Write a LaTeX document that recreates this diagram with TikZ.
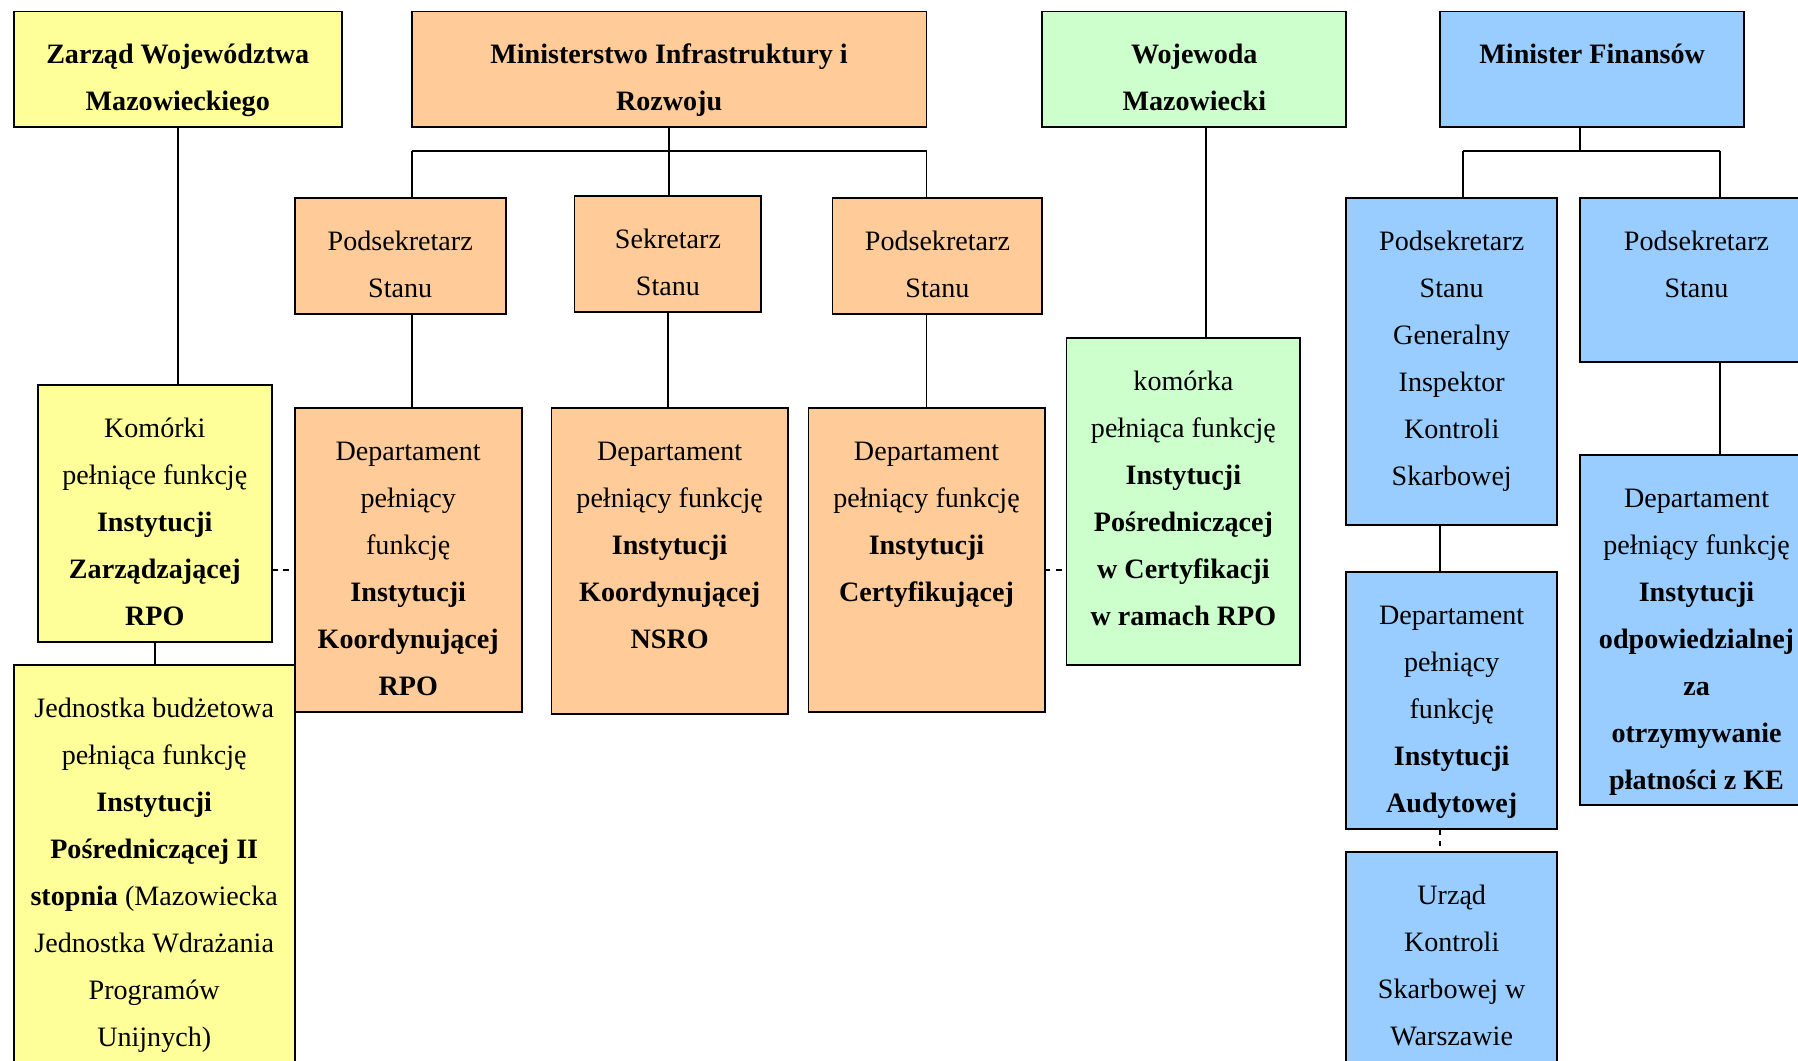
\documentclass[tikz,border=0pt]{standalone}
\usepackage{fontspec}
\setmainfont{Liberation Serif}
\usetikzlibrary{calc}
\definecolor{cyel}{HTML}{FFFF99}
\definecolor{cora}{HTML}{FFCC99}
\definecolor{cgrn}{HTML}{CCFFCC}
\definecolor{cblu}{HTML}{99CCFF}
\newcommand\bx[3]{\parbox[c][#2pt][t]{#1pt}{\centering\rule{0pt}{45.5pt}#3\par}}
\begin{document}
\begin{tikzpicture}[x=1pt,y=-1pt,
  box/.style={draw=black, line width=1.6pt, inner sep=0pt, outer sep=0pt, anchor=north west,
    font=\fontsize{24.5}{41}\selectfont},
  yel/.style={box, fill=cyel},
  ora/.style={box, fill=cora},
  grn/.style={box, fill=cgrn},
  blu/.style={box, fill=cblu},
  conn/.style={draw=black, line width=1.6pt},
  dconn/.style={draw=black, line width=1.4pt, dash pattern=on 5pt off 5pt}]
\useasboundingbox (0,0) rectangle (1568,925);
\fill[white] (0,0) rectangle (1568,925);

% top row
\node[yel] (zarzad) at (12,10) {\bx{286}{101}{\bfseries Zarząd Województwa\\Mazowieckiego}};
\node[ora] (min) at (359,10) {\bx{449}{101}{\bfseries Ministerstwo Infrastruktury i\\Rozwoju}};
\node[grn] (woj) at (909,10) {\bx{265}{101}{\bfseries Wojewoda\\Mazowiecki}};
\node[blu] (mf) at (1256,10) {\bx{265}{101}{\bfseries Minister Finansów}};

% yellow column
\node[yel] (komorki) at (33,336) {\bx{204}{224}{Komórki\\pełniące funkcję\\\textbf{Instytucji}\\\textbf{Zarządzającej}\\\textbf{RPO}}};
\node[yel] (jedn) at (12,580) {\bx{245}{360}{Jednostka budżetowa\\pełniąca funkcję\\\textbf{Instytucji}\\\textbf{Pośredniczącej II}\\\textbf{stopnia} (Mazowiecka\\Jednostka Wdrażania\\Programów\\Unijnych)}};

% ministry
\node[ora] (ps1) at (257,173) {\bx{184}{101}{Podsekretarz\\Stanu}};
\node[ora] (ss) at (501,171) {\bx{163}{101}{Sekretarz\\Stanu}};
\node[ora] (ps2) at (726,173) {\bx{183}{101}{Podsekretarz\\Stanu}};
\node[ora] (dkrpo) at (257,356) {\bx{198}{265}{Departament\\pełniący\\funkcję\\\textbf{Instytucji}\\\textbf{Koordynującej}\\\textbf{RPO}}};
\node[ora] (dnsro) at (481,356) {\bx{206}{267}{Departament\\pełniący funkcję\\\textbf{Instytucji}\\\textbf{Koordynującej}\\\textbf{NSRO}}};
\node[ora] (dcert) at (705,356) {\bx{206}{265}{Departament\\pełniący funkcję\\\textbf{Instytucji}\\\textbf{Certyfikującej}}};

% wojewoda
\node[grn] (kom) at (930,295) {\bx{204}{285}{komórka\\pełniąca funkcję\\\textbf{Instytucji}\\\textbf{Pośredniczącej}\\\textbf{w Certyfikacji}\\\textbf{w ramach RPO}}};

% finance
\node[blu] (psg) at (1174,173) {\bx{184}{285}{Podsekretarz\\Stanu\\Generalny\\Inspektor\\Kontroli\\Skarbowej}};
\node[blu] (psr) at (1378,173) {\bx{203}{143}{Podsekretarz\\Stanu}};
\node[blu] (daud) at (1174,499) {\bx{184}{224}{Departament\\pełniący\\funkcję\\\textbf{Instytucji}\\\textbf{Audytowej}}};
\node[blu] (urzad) at (1174,743) {\bx{184}{200}{Urząd\\Kontroli\\Skarbowej w\\Warszawie}};
\node[blu] (dpl) at (1378,397) {\bx{203}{305}{Departament\\pełniący funkcję\\\textbf{Instytucji}\\\textbf{odpowiedzialnej}\\\textbf{za}\\\textbf{otrzymywanie}\\\textbf{płatności z KE}}};

% helper coordinates
\coordinate (mL) at (359,132);
\coordinate (mR) at (808,132);
\coordinate (fL) at (1276,132);
\coordinate (fR) at (1500,132);
\coordinate (fx) at (1378,132);
\coordinate (wx) at (1052,0);
\coordinate (ax) at (1256,0);
\coordinate (dy) at (0,497);

% connectors
\draw[conn] (zarzad.south) -- (zarzad.south |- komorki.north);
\draw[conn] (komorki.south) -- (komorki.south |- jedn.north);

\draw[conn] (min.south) -- (min.south |- mL);
\draw[conn] (mL) -- (mR);
\draw[conn] (mL) -- (mL |- ps1.north);
\draw[conn] (min.south |- mL) -- (min.south |- ss.north);
\draw[conn] (mR) -- (mR |- ps2.north);
\draw[conn] (mL |- ps1.south) -- (mL |- dkrpo.north);
\draw[conn] (ss.south) -- (ss.south |- dnsro.north);
\draw[conn] (mR |- ps2.south) -- (mR |- dcert.north);

\draw[conn] (wx |- woj.south) -- (wx |- kom.north);

\draw[conn] (fx |- mf.south) -- (fx);
\draw[conn] (fL) -- (fR);
\draw[conn] (fL) -- (fL |- psg.north);
\draw[conn] (fR) -- (fR |- psr.north);
\draw[conn] (ax |- psg.south) -- (ax |- daud.north);
\draw[dconn] (ax |- daud.south) -- (ax |- urzad.north);
\draw[conn] (fR |- psr.south) -- (fR |- dpl.north);

\draw[dconn] (komorki.east |- dy) -- (dkrpo.west |- dy);
\draw[dconn] (dcert.east |- dy) -- (kom.west |- dy);
\end{tikzpicture}
\end{document}
